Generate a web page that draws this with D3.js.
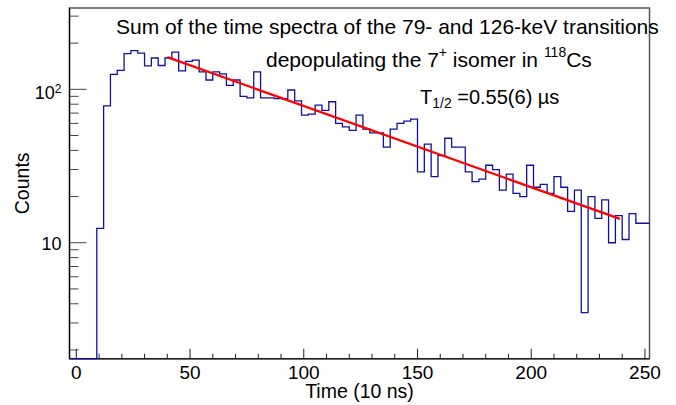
<!DOCTYPE html>
<html>
<head>
<meta charset="utf-8">
<script src="https://cdn.jsdelivr.net/npm/d3@7"></script>
<style>
  body { margin: 0; background: #fff; }
  text { font-family: "Liberation Sans", Arial, Helvetica, sans-serif; fill: #000; }
</style>
</head>
<body>
<div id="chart"></div>
<script>
// histogram: 85 bins of width 3 starting at -3 (units of 10 ns)
const binStart = -3;
const binWidth = 3;
const counts = [
  0, 0, 0, 0, 12.4, 78, 125, 133, 171, 179,
  172, 142, 160, 143, 160, 175, 132, 152, 155, 130,
  115, 130, 126, 106, 115, 90, 88, 130, 88, 88,
  87, 87, 99, 84, 68, 69, 79, 73, 83, 60,
  57, 54, 68, 55, 52, 52, 42, 55, 60, 62,
  64, 29, 44, 27, 37, 48, 42, 42, 29, 25,
  26, 32, 30, 22, 28, 21, 20, 32, 23, 24,
  21, 27, 23, 16, 22, 3.5, 20, 14.4, 19, 10,
  15, 10.5, 15.5, 13.4, 13.4
];

// exponential fit (straight on log scale), endpoints
const fitX = [40, 239];
const fitY = [162, 14.3];

const xDomain = [-3, 252];
const yDomain = [1.754, 339];
const xMajor = [0, 50, 100, 150, 200, 250];
const yMajor = [10, 100];

const width = 676, height = 405;
const margin = {top: 8, right: 26.5, bottom: 46.3, left: 69.5};
const iw = width - margin.left - margin.right;
const ih = height - margin.top - margin.bottom;

const svg = d3.select('#chart').append('svg')
  .attr('width', width).attr('height', height);

const g = svg.append('g').attr('transform', `translate(${margin.left},${margin.top})`);

const x = d3.scaleLinear().domain(xDomain).range([0, iw]);
const y = d3.scaleLog().domain(yDomain).range([ih, 0]);

// frame
g.append('rect')
  .attr('width', iw).attr('height', ih)
  .attr('fill', 'none').attr('stroke', '#555').attr('stroke-width', 1.5);

// x ticks (drawn inside, ROOT style)
const xMinor = d3.range(0, 251, 10).filter(v => !xMajor.includes(v));
g.selectAll('.xmin').data(xMinor).enter().append('line')
  .attr('x1', d => x(d)).attr('x2', d => x(d))
  .attr('y1', ih).attr('y2', ih - 5)
  .attr('stroke', '#222');
g.selectAll('.xmaj').data(xMajor).enter().append('line')
  .attr('x1', d => x(d)).attr('x2', d => x(d))
  .attr('y1', ih).attr('y2', ih - 10)
  .attr('stroke', '#222');
g.selectAll('.xlab').data(xMajor).enter().append('text')
  .attr('x', d => x(d)).attr('y', ih + 20.5)
  .attr('text-anchor', 'middle')
  .style('font-size', '19px')
  .text(d => d);

// y ticks
const yMinor = [2, 3, 4, 5, 6, 7, 8, 9, 20, 30, 40, 50, 60, 70, 80, 90, 200, 300]
  .filter(v => v >= yDomain[0] && v <= yDomain[1]);
g.selectAll('.ymin').data(yMinor).enter().append('line')
  .attr('x1', 0).attr('x2', 9)
  .attr('y1', d => y(d)).attr('y2', d => y(d))
  .attr('stroke', '#444');
g.selectAll('.ymaj').data(yMajor).enter().append('line')
  .attr('x1', 0).attr('x2', 17)
  .attr('y1', d => y(d)).attr('y2', d => y(d))
  .attr('stroke', '#444');

// y labels: "10" and "10^2"
g.append('text')
  .attr('x', -8).attr('y', y(10) + 7.3)
  .attr('text-anchor', 'end')
  .style('font-size', '18px')
  .text('10');
const l100 = g.append('text')
  .attr('x', -8).attr('y', y(100) + 10)
  .attr('text-anchor', 'end')
  .style('font-size', '18px');
l100.append('tspan').text('10');
l100.append('tspan').attr('dy', -6).style('font-size', '12px').text('2');

// left & bottom axis lines
g.append('line').attr('x1', 0).attr('x2', 0).attr('y1', 0).attr('y2', ih)
  .attr('stroke', '#000').attr('stroke-width', 1.2);
g.append('line').attr('x1', 0).attr('x2', iw).attr('y1', ih).attr('y2', ih)
  .attr('stroke', '#222').attr('stroke-width', 1.5);

// histogram as steps
const pts = counts.map((c, i) => [binStart + i * binWidth, c]);
pts.push([binStart + counts.length * binWidth, counts[counts.length - 1]]);
const step = d3.line()
  .x(d => x(d[0]))
  .y(d => y(Math.max(d[1], yDomain[0])))
  .curve(d3.curveStepAfter);
g.append('path')
  .datum(pts)
  .attr('d', step)
  .attr('fill', 'none')
  .attr('stroke', '#10109f')
  .attr('stroke-width', 1.3);

// fit line
g.append('line')
  .attr('x1', x(fitX[0])).attr('y1', y(fitY[0]))
  .attr('x2', x(fitX[1])).attr('y2', y(fitY[1]))
  .attr('stroke', '#ff0000').attr('stroke-width', 2.3);

// axis titles
svg.append('text')
  .attr('x', margin.left + iw / 2).attr('y', 397.5)
  .attr('text-anchor', 'middle')
  .style('font-size', '19.5px')
  .text('Time (10 ns)');
svg.append('text')
  .attr('transform', `translate(29,${margin.top + ih / 2}) rotate(-90)`)
  .attr('text-anchor', 'middle')
  .style('font-size', '19.5px')
  .text('Counts');

// annotation text
svg.append('text')
  .attr('x', 116).attr('y', 33.5)
  .style('font-size', '21px')
  .text('Sum of the time spectra of the 79- and 126-keV transitions');

const t2 = svg.append('text')
  .attr('x', 266).attr('y', 66.5)
  .style('font-size', '21px');
t2.append('tspan').text('depopulating the 7');
t2.append('tspan').attr('dy', -10).style('font-size', '14px').text('+');
t2.append('tspan').attr('dy', 10).text(' isomer in ');
t2.append('tspan').attr('dy', -10).style('font-size', '14px').text('118');
t2.append('tspan').attr('dy', 10).text('Cs');

const t3 = svg.append('text')
  .attr('x', 420).attr('y', 103.5)
  .style('font-size', '20px');
t3.append('tspan').text('T');
t3.append('tspan').attr('dy', 4).style('font-size', '14px').text('1/2');
t3.append('tspan').attr('dy', -4).text(' =0.55(6) \u00b5s');
</script>
</body>
</html>
